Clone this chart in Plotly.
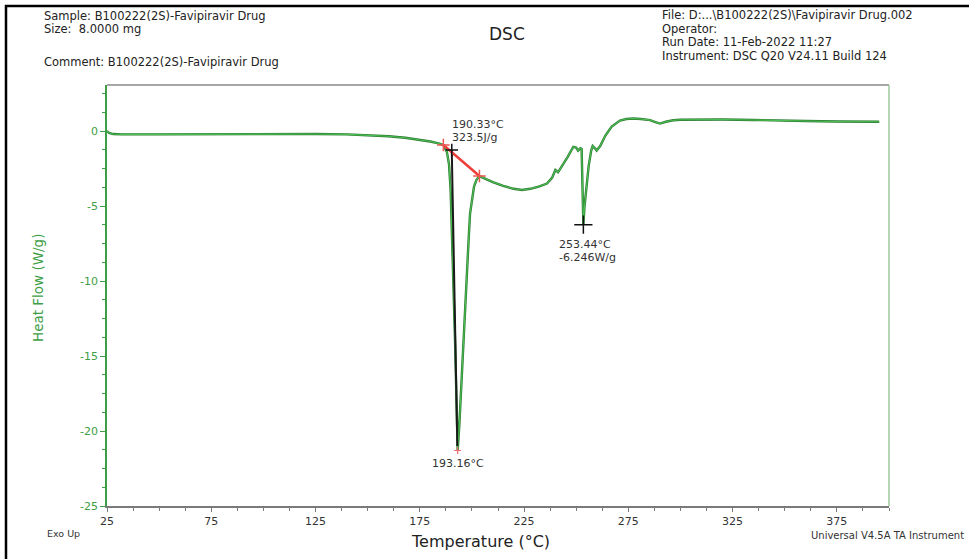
import plotly.graph_objects as go

# DSC trace: temperature (°C) vs heat flow (W/g)
temperature = [25, 26, 28, 32, 50, 75, 100, 125, 140, 150, 160, 168, 175, 180, 184,
               186.3, 188, 189, 189.8, 190.5, 191.2, 191.9, 192.6, 193.16, 194, 194.6,
               195.4, 196.2, 197, 197.8, 198.5, 199.1, 200, 201, 202.2, 203.6, 206,
               210, 215, 220, 224, 228, 232, 236, 238.5, 240, 241.3, 243, 246, 248.6,
               250, 250.9, 252, 252.6, 253.0, 253.44, 254, 255, 256, 257.2, 257.9,
               259, 259.8, 261.5, 264, 267, 271, 274, 277.3, 281, 285.4, 288, 290.2,
               293, 296.5, 300, 309.4, 320, 335, 348, 360, 375, 390, 395.3]
heat_flow = [0.0, -0.12, -0.2, -0.22, -0.22, -0.2, -0.2, -0.2, -0.22, -0.26, -0.35,
             -0.45, -0.58, -0.7, -0.82, -0.93, -1.4, -2.2, -4.0, -7.0, -10.5, -14.0,
             -18.0, -21.3, -19.5, -17.7, -15.5, -13.3, -11.0, -8.8, -7.0, -5.5, -4.5,
             -3.7, -3.25, -3.0, -3.15, -3.4, -3.65, -3.85, -3.93, -3.85, -3.7, -3.5,
             -3.1, -2.6, -2.75, -2.4, -1.7, -1.05, -1.1, -1.3, -1.15, -1.2, -3.5,
             -6.246, -5.0, -3.5, -2.3, -1.3, -1.0, -1.15, -1.3, -1.0, -0.3, 0.3, 0.7,
             0.8, 0.84, 0.8, 0.73, 0.6, 0.5, 0.62, 0.72, 0.75, 0.78, 0.77, 0.74, 0.69,
             0.67, 0.64, 0.62, 0.62]

# Melting analysis: onset baseline limits, onset and peaks
baseline_temp = [186.3, 203.6]
baseline_hf = [-0.93, -3.0]
onset_temp = 190.33
onset_hf = -1.27
enthalpy_label = "323.5J/g"
tangent_temp = [190.33, 193.0]
tangent_hf = [-1.27, -21.0]
peak1_temp = 193.16
peak1_hf = -21.3
peak2_temp = 253.44
peak2_hf = -6.246

x_ticks = [25, 75, 125, 175, 225, 275, 325, 375]
y_ticks = [0, -5, -10, -15, -20, -25]

GREEN = "#3d9e45"
FONT = "DejaVu Sans, Liberation Sans, Arial, sans-serif"

# plot-area geometry in pixels
L, R, T, B = 107, 889, 85, 506
W, H = 969, 559


def xp(px):
    return (px - L) / (R - L)


def yp(py):
    return (B - py) / (B - T)


fig = go.Figure()

fig.add_trace(go.Scatter(x=temperature, y=heat_flow, mode="lines",
                         line=dict(color="#2d7a33", width=2.4), hoverinfo="skip"))
fig.add_trace(go.Scatter(x=temperature, y=heat_flow, mode="lines",
                         line=dict(color="#4cbf52", width=1.1)))
fig.add_trace(go.Scatter(x=tangent_temp, y=tangent_hf, mode="lines",
                         line=dict(color="#1a1a1a", width=2)))
fig.add_trace(go.Scatter(x=baseline_temp, y=baseline_hf, mode="lines+markers",
                         line=dict(color="#ee3e3a", width=2.5),
                         marker=dict(symbol="cross-thin", size=9,
                                     line=dict(color="#ee5550", width=1.5))))
fig.add_trace(go.Scatter(x=[onset_temp], y=[onset_hf], mode="markers",
                         marker=dict(symbol="cross-thin", size=9,
                                     line=dict(color="#111111", width=1.5))))
fig.add_trace(go.Scatter(x=[peak1_temp], y=[peak1_hf], mode="markers",
                         marker=dict(symbol="cross-thin", size=5,
                                     line=dict(color="#f06a6a", width=1.2))))
fig.add_trace(go.Scatter(x=[peak2_temp], y=[peak2_hf], mode="markers",
                         marker=dict(symbol="cross-thin", size=13,
                                     line=dict(color="#111111", width=1.5))))

ann_font = dict(family=FONT, size=11, color="#333333")
annotations = [
    dict(x=onset_temp, y=onset_hf, xref="x", yref="y",
         text=f"{onset_temp:.2f}°C", showarrow=False,
         xanchor="left", yanchor="middle", xshift=-2, yshift=26, font=ann_font),
    dict(x=onset_temp, y=onset_hf, xref="x", yref="y",
         text=enthalpy_label, showarrow=False,
         xanchor="left", yanchor="middle", xshift=-2, yshift=13, font=ann_font),
    dict(x=peak1_temp, y=peak1_hf, xref="x", yref="y",
         text=f"{peak1_temp:.2f}°C", showarrow=False,
         xanchor="center", yanchor="middle", yshift=-13, font=ann_font),
    dict(x=peak2_temp, y=peak2_hf, xref="x", yref="y",
         text=f"{peak2_temp:.2f}°C", showarrow=False,
         xanchor="left", yanchor="middle", xshift=-26, yshift=-20, font=ann_font),
    dict(x=peak2_temp, y=peak2_hf, xref="x", yref="y",
         text=f"{peak2_hf:.3f}W/g", showarrow=False,
         xanchor="left", yanchor="middle", xshift=-26, yshift=-33, font=ann_font),
]

hdr_font = dict(family=FONT, size=11.5, color="#222222")
header_left = [("Sample: B100222(2S)-Favipiravir Drug", 16),
               ("Size:  8.0000 mg", 29),
               ("Comment: B100222(2S)-Favipiravir Drug", 62)]
header_right = [("File: D:...\\B100222(2S)\\Favipiravir Drug.002", 15),
                ("Operator:", 28.5),
                ("Run Date: 11-Feb-2022 11:27", 42),
                ("Instrument: DSC Q20 V24.11 Build 124", 55.5)]
for txt, py in header_left:
    annotations.append(dict(x=xp(42), y=yp(py), xref="paper", yref="paper",
                            text=txt, showarrow=False, xanchor="left",
                            yanchor="middle", font=hdr_font))
for txt, py in header_right:
    annotations.append(dict(x=xp(660), y=yp(py), xref="paper", yref="paper",
                            text=txt, showarrow=False, xanchor="left",
                            yanchor="middle", font=hdr_font))
annotations += [
    dict(x=xp(507), y=yp(34), xref="paper", yref="paper", text="DSC",
         showarrow=False, xanchor="center", yanchor="middle",
         font=dict(family=FONT, size=17, color="#222222")),
    dict(x=xp(38), y=yp(288), xref="paper", yref="paper", text="Heat Flow (W/g)",
         showarrow=False, textangle=-90, xanchor="center", yanchor="middle",
         font=dict(family=FONT, size=13.5, color=GREEN)),
    dict(x=xp(480), y=yp(541), xref="paper", yref="paper", text="Temperature (°C)",
         showarrow=False, xanchor="center", yanchor="middle",
         font=dict(family=FONT, size=16, color="#222222")),
    dict(x=xp(45), y=yp(533), xref="paper", yref="paper", text="Exo Up",
         showarrow=False, xanchor="left", yanchor="middle",
         font=dict(family=FONT, size=9.5, color="#333333")),
    dict(x=xp(966), y=yp(535), xref="paper", yref="paper",
         text="Universal V4.5A TA Instrument", showarrow=False,
         xanchor="right", yanchor="middle",
         font=dict(family=FONT, size=10, color="#333333")),
]

shapes = [
    # outer page frame (left and top edges visible)
    dict(type="rect", xref="paper", yref="paper",
         x0=xp(6), x1=xp(W + 20), y0=yp(6), y1=yp(H + 20),
         line=dict(color="#000000", width=2.5), fillcolor="rgba(0,0,0,0)",
         layer="below"),
    # top and right plot borders
    dict(type="line", xref="paper", yref="paper", x0=0, x1=1, y0=1, y1=1,
         line=dict(color="#8a8a8a", width=1.5)),
    dict(type="line", xref="paper", yref="paper", x0=1, x1=1, y0=0, y1=1,
         line=dict(color="#9cc79c", width=1.5)),
]

fig.update_layout(
    width=W, height=H,
    margin=dict(l=L, r=W - R, t=T, b=H - B),
    paper_bgcolor="white", plot_bgcolor="white",
    showlegend=False,
    font=dict(family=FONT),
    annotations=annotations,
    shapes=shapes,
    xaxis=dict(range=[25, 400], tickvals=x_ticks, ticktext=[str(v) for v in x_ticks],
               showgrid=False, zeroline=False, showline=True,
               linecolor="#7a7a7a", linewidth=1.5,
               ticks="outside", ticklen=4, tickcolor="#7a7a7a",
               tickfont=dict(family=FONT, size=11, color="#333333"),
               minor=dict(dtick=12.5, tick0=25, ticks="outside", ticklen=3,
                          tickcolor="#7a7a7a")),
    yaxis=dict(range=[-25, 3.07], tickvals=y_ticks, ticktext=[str(v) for v in y_ticks],
               showgrid=False, zeroline=False, showline=True,
               linecolor=GREEN, linewidth=1.5,
               ticks="outside", ticklen=5, tickcolor=GREEN,
               tickfont=dict(family=FONT, size=11, color=GREEN),
               minor=dict(dtick=1.25, tick0=0, ticks="outside", ticklen=3,
                          tickcolor=GREEN)),
)

fig.write_html("out.html")
